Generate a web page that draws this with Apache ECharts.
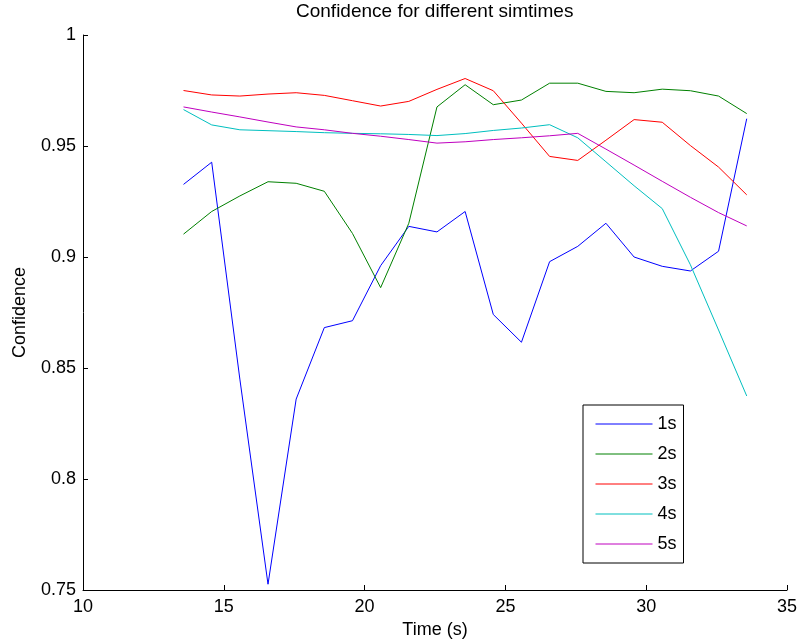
<!DOCTYPE html>
<html>
<head>
<meta charset="utf-8">
<title>Confidence for different simtimes</title>
<script src="https://cdn.jsdelivr.net/npm/echarts@6/dist/echarts.min.js"></script>
<style>
  body { margin: 0; background: #fff; }
  #main { width: 800px; height: 644px; }
</style>
</head>
<body>
<div id="main"></div>
<script>
// time points (s)
var times = [13.57, 14.57, 15.57, 16.57, 17.57, 18.57, 19.57, 20.57, 21.57, 22.57, 23.57,
             24.57, 25.57, 26.57, 27.57, 28.57, 29.57, 30.57, 31.57, 32.57, 33.57];

// confidence per simtime
var conf1s = [0.9327, 0.9427, 0.845, 0.7526, 0.836, 0.8682, 0.8713, 0.8961, 0.9138, 0.9113, 0.9205,
              0.8741, 0.8616, 0.8979, 0.9048, 0.9152, 0.9, 0.8958, 0.8937, 0.9026, 0.9623];
var conf2s = [0.9103, 0.9205, 0.9275, 0.9339, 0.9332, 0.9296, 0.9106, 0.8862, 0.9152, 0.9676, 0.9776,
              0.9686, 0.9707, 0.9783, 0.9783, 0.9746, 0.974, 0.9756, 0.9749, 0.9725, 0.9646];
var conf3s = [0.975, 0.973, 0.9725, 0.9734, 0.974, 0.9728, 0.9704, 0.968, 0.9701, 0.9755, 0.9804,
              0.9749, 0.9603, 0.9453, 0.9435, 0.9526, 0.9619, 0.9607, 0.9502, 0.9405, 0.928];
var conf4s = [0.9664, 0.9595, 0.9573, 0.9569, 0.9565, 0.956, 0.9557, 0.9555, 0.9552, 0.9547, 0.9556,
              0.957, 0.9581, 0.9596, 0.9537, 0.9429, 0.9321, 0.9218, 0.8965, 0.8671, 0.8374];
var conf5s = [0.9676, 0.9653, 0.9631, 0.9608, 0.9586, 0.9573, 0.9557, 0.9544, 0.9529, 0.9513, 0.9519,
              0.9529, 0.9537, 0.9546, 0.9557, 0.9486, 0.9414, 0.9341, 0.9269, 0.92, 0.914];

var names = ['1s', '2s', '3s', '4s', '5s'];
var colors = ['#0000ff', '#008000', '#ff0000', '#00bfbf', '#bf00bf'];
var allConf = [conf1s, conf2s, conf3s, conf4s, conf5s];

var font = 'Liberation Sans, Arial, Helvetica, sans-serif';

function pairs(ys) {
  return ys.map(function (y, i) { return [times[i], y]; });
}

var chart = echarts.init(document.getElementById('main'));

chart.setOption({
  animation: false,
  backgroundColor: '#fff',
  title: {
    text: 'Confidence for different simtimes',
    left: 296,
    top: 2,
    padding: 0,
    textStyle: { fontFamily: font, fontSize: 19, fontWeight: 'normal', color: '#000' }
  },
  legend: {
    orient: 'vertical',
    left: 583,
    top: 405,
    padding: [10, 7, 10, 12],
    itemWidth: 57,
    itemHeight: 18,
    itemGap: 12,
    borderColor: '#000',
    borderWidth: 1,
    backgroundColor: '#fff',
    selectedMode: false,
    itemStyle: { opacity: 0 },
    lineStyle: { width: 1 },
    data: names,
    textStyle: { fontFamily: font, fontSize: 18, color: '#000' }
  },
  grid: { left: 83, right: 13, top: 35, bottom: 51 },
  xAxis: {
    type: 'value',
    min: 10, max: 35, interval: 5,
    name: 'Time (s)',
    nameLocation: 'middle',
    nameGap: 31,
    nameTextStyle: { fontFamily: font, fontSize: 18, color: '#000' },
    axisLine: { lineStyle: { color: '#000', width: 1 } },
    axisTick: { inside: true, length: 5, lineStyle: { color: '#000' } },
    axisLabel: { fontFamily: font, fontSize: 18, color: '#000', margin: 8 },
    splitLine: { show: false }
  },
  yAxis: {
    type: 'value',
    min: 0.75, max: 1, interval: 0.05,
    name: 'Confidence',
    nameLocation: 'middle',
    nameGap: 54,
    nameTextStyle: { fontFamily: font, fontSize: 18, color: '#000' },
    axisLine: { show: true, lineStyle: { color: '#000', width: 1 } },
    axisTick: { show: true, inside: true, length: 5, lineStyle: { color: '#000' } },
    axisLabel: { fontFamily: font, fontSize: 18, color: '#000', margin: 7 },
    splitLine: { show: false }
  },
  series: names.map(function (n, k) {
    return {
      name: n,
      type: 'line',
      symbol: 'none',
      color: colors[k],
      lineStyle: { width: 1, color: colors[k] },
      data: pairs(allConf[k])
    };
  })
});
</script>
</body>
</html>
